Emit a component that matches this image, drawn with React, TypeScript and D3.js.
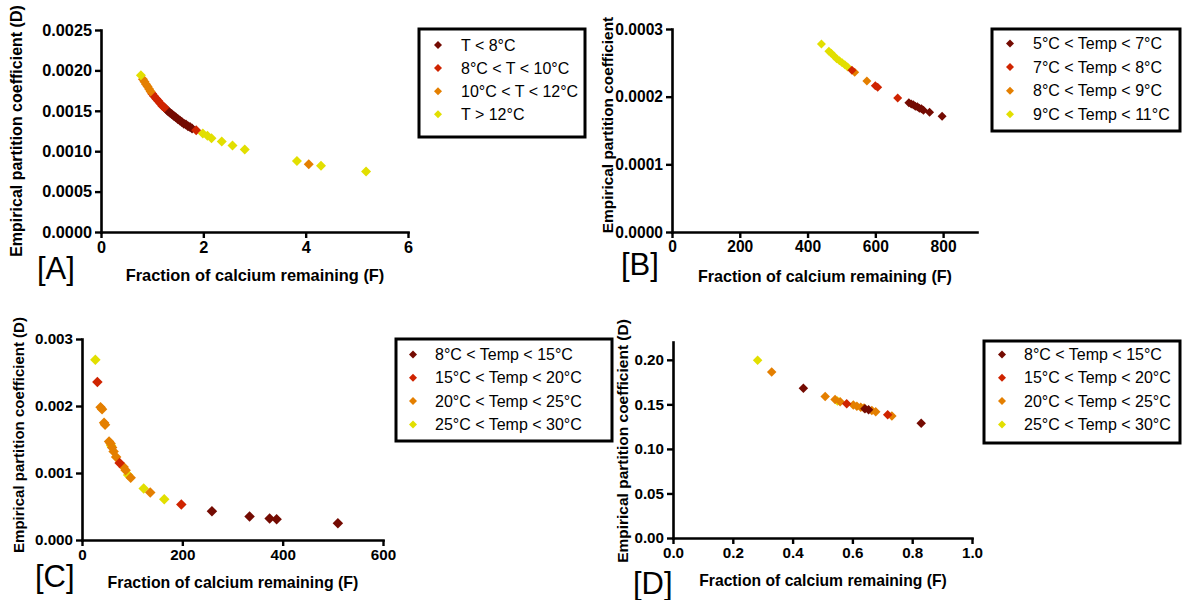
import React, { useEffect, useRef } from "react";
import * as d3 from "d3";

const FONT = "'Liberation Sans', Arial, Helvetica, sans-serif";
const COLORS = ["#740b02", "#cf2400", "#e47f00", "#e2df00"];

// [A] sea water, groups by temperature
const aLegend = ["T < 8°C", "8°C < T < 10°C", "10°C < T < 12°C", "T > 12°C"];
const aBelow8 = [[1.26, 0.00153], [1.3, 0.0015], [1.34, 0.00148], [1.38, 0.00146], [1.42, 0.00144], [1.46, 0.00142], [1.5, 0.0014], [1.54, 0.00138], [1.58, 0.00136], [1.62, 0.00134], [1.66, 0.00133], [1.7, 0.00131], [1.74, 0.0013], [1.78, 0.00128]];
const a8to10 = [[1.0, 0.00171], [1.04, 0.00168], [1.08, 0.00165], [1.12, 0.00162], [1.16, 0.00159], [1.2, 0.00156], [1.24, 0.00154], [1.86, 0.00126]];
const a10to12 = [[0.82, 0.00189], [0.85, 0.00186], [0.88, 0.00183], [0.91, 0.0018], [0.94, 0.00177], [0.97, 0.00174], [4.06, 0.00084]];
const aAbove12 = [[0.78, 0.00194], [1.99, 0.00122], [2.08, 0.00119], [2.16, 0.00116], [2.36, 0.00112], [2.57, 0.00107], [2.81, 0.00102], [3.83, 0.00088], [4.3, 0.00082], [5.18, 0.00075]];
const aXTicks = [0, 2, 4, 6];
const aYTicks = [0, 0.0005, 0.001, 0.0015, 0.002, 0.0025];

// [B]
const bLegend = ["5°C < Temp < 7°C", "7°C < Temp < 8°C", "8°C < Temp < 9°C", "9°C < Temp < 11°C"];
const b5to7 = [[699, 0.000191], [706, 0.000189], [712, 0.000188], [718, 0.000186], [724, 0.000185], [730, 0.000183], [736, 0.000182], [742, 0.00018], [760, 0.000177], [797, 0.000171]];
const b7to8 = [[531, 0.000239], [600, 0.000216], [607, 0.000214], [666, 0.000198]];
const b8to9 = [[539, 0.000236], [575, 0.000223]];
const b9to11 = [[441, 0.000278], [463, 0.000267], [470, 0.000264], [478, 0.00026], [486, 0.000256], [494, 0.000253], [502, 0.00025], [510, 0.000247], [518, 0.000244]];
const bXTicks = [0, 200, 400, 600, 800];
const bYTicks = [0, 0.0001, 0.0002, 0.0003];

// [C]
const cLegend = ["8°C < Temp < 15°C", "15°C < Temp < 20°C", "20°C < Temp < 25°C", "25°C < Temp < 30°C"];
const c8to15 = [[259, 0.00043], [334, 0.00035], [374, 0.00032], [388, 0.00031], [510, 0.00025]];
const c15to20 = [[30.6, 0.00236], [75, 0.00115], [198, 0.00053]];
const c20to25 = [[37, 0.00198], [40, 0.00195], [44, 0.00175], [46, 0.00172], [54, 0.00147], [57, 0.00144], [60, 0.00138], [63, 0.00132], [68, 0.00124], [83, 0.00109], [87, 0.00104], [97, 0.00093], [136, 0.00071]];
const c25to30 = [[26.6, 0.00269], [58, 0.00141], [92, 0.00097], [123, 0.00077], [164, 0.00061]];
const cXTicks = [0, 200, 400, 600];
const cYTicks = [0, 0.001, 0.002, 0.003];

// [D]
const dLegend = cLegend;
const d8to15 = [[0.436, 0.168], [0.642, 0.1452], [0.654, 0.144], [0.83, 0.1288]];
const d15to20 = [[0.581, 0.1508], [0.718, 0.1383]];
const d20to25 = [[0.33, 0.1862], [0.509, 0.1587], [0.542, 0.1555], [0.559, 0.153], [0.603, 0.1494], [0.615, 0.1478], [0.628, 0.1468], [0.639, 0.146], [0.665, 0.1432], [0.678, 0.1416], [0.732, 0.1368]];
const d25to30 = [[0.283, 0.1996], [0.55, 0.1537]];
const dXTicks = [0, 0.2, 0.4, 0.6, 0.8, 1.0];
const dYTicks = [0, 0.05, 0.1, 0.15, 0.2];

const panels = [
    {
        label: "[A]", labelPos: [37, 279],
        series: [aBelow8, a8to10, a10to12, aAbove12], order: [0, 1, 2, 3], legend: aLegend,
        xDomain: [0, 6], xRange: [101, 408], yDomain: [0, 0.0025], yRange: [232, 30],
        xTicks: aXTicks, yTicks: aYTicks, xFmt: "d", yFmt: ".4f", tickSize: 16.3,
        yTitle: "Empirical partition coefficient (D)", yTitlePos: [16, 131], yTitleSize: 16,
        xTitlePos: [255, 275], xTitleSize: 16.4, marker: 10,
        box: [419, 29, 585, 137], markerX: 438, textX: 461, rowY: 45, rowStep: 23.1
    },
    {
        label: "[B]", labelPos: [621, 275],
        series: [b5to7, b7to8, b8to9, b9to11], order: [3, 2, 1, 0], legend: bLegend,
        xDomain: [0, 900], xRange: [672, 977], yDomain: [0, 0.0003], yRange: [232, 29],
        xTicks: bXTicks, yTicks: bYTicks, xFmt: "d", yFmt: ".4f", tickSize: 15.6,
        yTitle: "Empirical partition coefficient", yTitlePos: [607, 125], yTitleSize: 15.4,
        xTitlePos: [825, 276], xTitleSize: 16.1, marker: 9,
        box: [992, 29, 1180, 131], markerX: 1010, textX: 1033, rowY: 43.5, rowStep: 23.6
    },
    {
        label: "[C]", labelPos: [35, 587],
        series: [c8to15, c15to20, c20to25, c25to30], order: [3, 2, 1, 0], legend: cLegend,
        xDomain: [0, 600], xRange: [82, 383], yDomain: [0, 0.003], yRange: [540, 339],
        xTicks: cXTicks, yTicks: cYTicks, xFmt: "d", yFmt: ".3f", tickSize: 15.2,
        yTitle: "Empirical partition coefficient (D)", yTitlePos: [18, 435], yTitleSize: 15,
        xTitlePos: [233, 582], xTitleSize: 15.9, marker: 10.5,
        box: [396, 339, 612, 441], markerX: 413, textX: 435, rowY: 354.5, rowStep: 23.3
    },
    {
        label: "[D]", labelPos: [633, 594],
        series: [d8to15, d15to20, d20to25, d25to30], order: [3, 2, 1, 0], legend: dLegend,
        xDomain: [0, 1], xRange: [673, 972], yDomain: [0, 0.22], yRange: [538, 342],
        xTicks: dXTicks, yTicks: dYTicks, xFmt: ".1f", yFmt: ".2f", tickSize: 15.2,
        yTitle: "Empirical partition coefficient (D)", yTitlePos: [622, 441], yTitleSize: 15.5,
        xTitlePos: [823, 580], xTitleSize: 15.7, marker: 9.5,
        box: [984, 341, 1180, 443], markerX: 1002, textX: 1024, rowY: 354.5, rowStep: 23.3
    }
];

// rotated square, size = width across the points
const diamond = (across: number) => {
    const s = across / Math.SQRT2;
    return d3.symbol(d3.symbolSquare, s * s)();
};

function styleAxis(g: any, size: number) {
    g.select(".domain").attr("stroke", "#000").attr("stroke-width", 2.6).attr("stroke-linecap", "square");
    g.selectAll(".tick line").attr("stroke", "#000").attr("stroke-width", 2.4);
    g.selectAll(".tick text")
        .attr("fill", "#000")
        .style("font-family", FONT)
        .style("font-size", size + "px")
        .style("font-weight", "bold");
}

function Panel({ p }: { p: any }) {
    const xAxisRef = useRef<SVGGElement>(null);
    const yAxisRef = useRef<SVGGElement>(null);
    const x = d3.scaleLinear().domain(p.xDomain).range(p.xRange);
    const y = d3.scaleLinear().domain(p.yDomain).range(p.yRange);

    useEffect(() => {
        const xAxis = d3.axisBottom(x).tickValues(p.xTicks).tickFormat(d3.format(p.xFmt)).tickSize(6).tickSizeOuter(0).tickPadding(3);
        const yAxis = d3.axisLeft(y).tickValues(p.yTicks).tickFormat(d3.format(p.yFmt)).tickSize(6).tickSizeOuter(0).tickPadding(3);
        styleAxis(d3.select(xAxisRef.current).call(xAxis as any), p.tickSize);
        styleAxis(d3.select(yAxisRef.current).call(yAxis as any), p.tickSize);
    }, []);

    const path = diamond(p.marker);
    const legendPath = diamond(8);
    const [bx0, by0, bx1, by1] = p.box;

    return (
        <g>
            {p.order.map((si: number) => (
                <g key={si} fill={COLORS[si]}>
                    {p.series[si].map((d: number[], i: number) => (
                        <path key={i} d={path} transform={`translate(${x(d[0])},${y(d[1])}) rotate(45)`} />
                    ))}
                </g>
            ))}
            <g ref={xAxisRef} transform={`translate(0,${p.yRange[0]})`} />
            <g ref={yAxisRef} transform={`translate(${p.xRange[0]},0)`} />
            <text
                transform={`translate(${p.yTitlePos[0]},${p.yTitlePos[1]}) rotate(-90)`}
                textAnchor="middle"
                dominantBaseline="central"
                style={{ fontFamily: FONT, fontSize: p.yTitleSize, fontWeight: "bold" }}
            >
                {p.yTitle}
            </text>
            <text
                x={p.xTitlePos[0]}
                y={p.xTitlePos[1]}
                textAnchor="middle"
                dominantBaseline="central"
                style={{ fontFamily: FONT, fontSize: p.xTitleSize, fontWeight: "bold" }}
            >
                Fraction of calcium remaining (F)
            </text>
            <text x={p.labelPos[0]} y={p.labelPos[1]} style={{ fontFamily: FONT, fontSize: 31 }}>
                {p.label}
            </text>
            <rect x={bx0} y={by0} width={bx1 - bx0} height={by1 - by0} fill="#fff" stroke="#000" strokeWidth={3} />
            {p.legend.map((name: string, i: number) => (
                <g key={name} transform={`translate(0,${p.rowY + i * p.rowStep})`}>
                    <path d={legendPath} fill={COLORS[i]} transform={`translate(${p.markerX},0) rotate(45)`} />
                    <text x={p.textX} dominantBaseline="central" style={{ fontFamily: FONT, fontSize: 16 }}>
                        {name}
                    </text>
                </g>
            ))}
        </g>
    );
}

export default function App() {
    return (
        <div style={{ position: "absolute", left: 0, top: 0 }}>
            <svg width={1183} height={600} style={{ display: "block", background: "#fff" }}>
                {panels.map(p => (
                    <Panel key={p.label} p={p} />
                ))}
            </svg>
        </div>
    );
}
